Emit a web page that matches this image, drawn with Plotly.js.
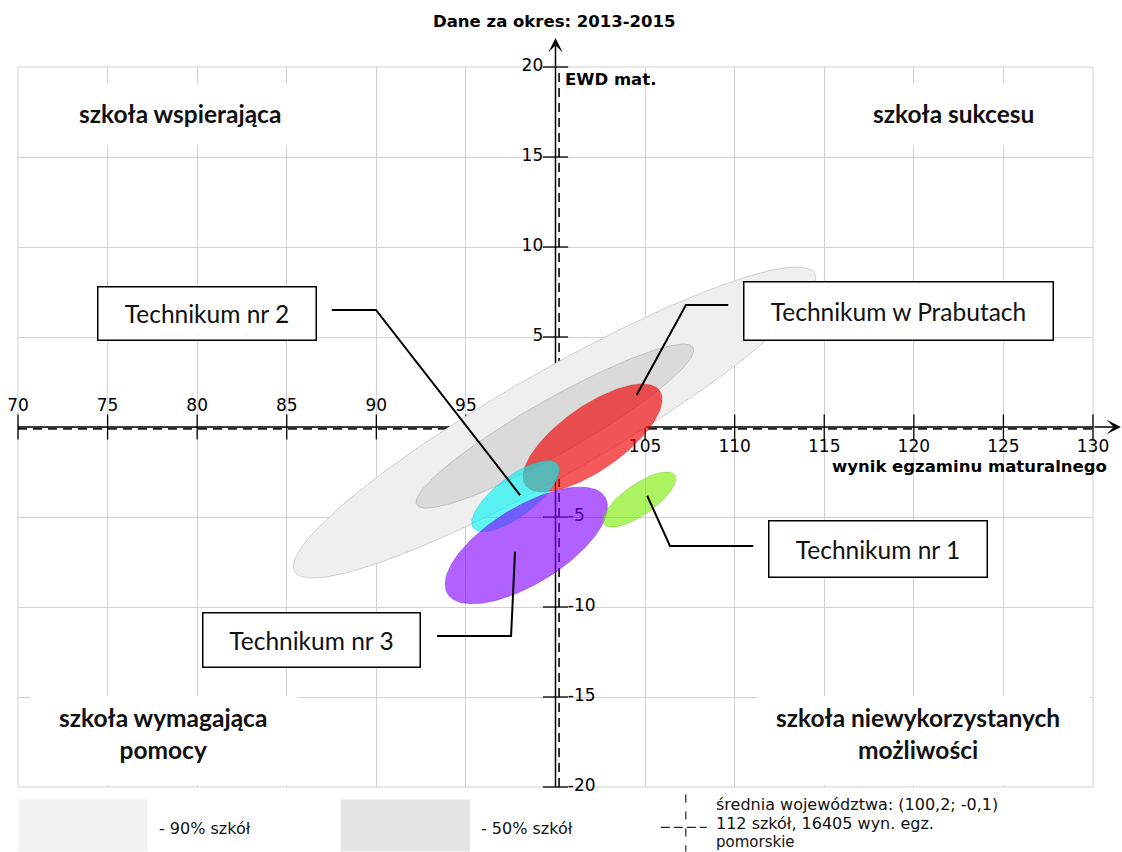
<!DOCTYPE html>
<html><head><meta charset="utf-8">
<script src="https://cdn.plot.ly/plotly-3.0.1.min.js"></script>
<style>body{margin:0;background:#fff}#chart{width:1122px;height:852px}</style>
</head><body><div id="chart"></div>
<script>
// ---- data ----
const ellipseNames = ['90% szkół', '50% szkół', 'Technikum w Prabutach', 'Technikum nr 2', 'Technikum nr 3', 'Technikum nr 1'];
const centerX   = [99.95, 99.97, 102.07, 97.77, 98.37, 104.68];
const centerY   = [0.25, 0.05, -0.61, -3.84, -6.58, -4.03];
const semiMajor = [16.7, 8.86, 4.57, 2.95, 5.15, 2.40];
const semiMinor = [2.85, 1.50, 1.78, 1.10, 2.14, 0.86];
const angleDeg  = [29.7, 29.5, 35.0, 37.0, 31.4, 34.6];
const meanX = 100.2, meanY = -0.1;
const xTicksLow  = [70, 75, 80, 85, 90, 95];
const xTicksHigh = [105, 110, 115, 120, 125, 130];
const yTicksHigh = [5, 10, 15, 20];
const yTicksLow  = [-5, -10, -15, -20];

// ---- styles ----
const fills = ['#efefef', '#dadada', 'rgba(240,0,0,0.65)', 'rgba(0,240,240,0.63)', 'rgba(127,0,255,0.62)', 'rgba(120,235,0,0.62)'];
const edges = ['#c4c4c4', '#b8b8b8', 'rgba(200,0,0,0.35)', 'rgba(0,170,170,0.35)', 'rgba(90,0,200,0.35)', 'rgba(80,170,0,0.35)'];
const TICKFONT = {family: 'DejaVu Sans', size: 17, color: '#000'};

function ellipseTrace(i) {
  const n = 160, th = angleDeg[i] * Math.PI / 180, xs = [], ys = [];
  for (let k = 0; k <= n; k++) {
    const t = 2 * Math.PI * k / n, c = Math.cos(t), s = Math.sin(t);
    xs.push(centerX[i] + semiMajor[i] * c * Math.cos(th) - semiMinor[i] * s * Math.sin(th));
    ys.push(centerY[i] + semiMajor[i] * c * Math.sin(th) + semiMinor[i] * s * Math.cos(th));
  }
  return {x: xs, y: ys, type: 'scatter', mode: 'lines', fill: 'toself', name: ellipseNames[i],
    fillcolor: fills[i], line: {color: edges[i], width: 0.8}, hoverinfo: 'skip', showlegend: false};
}
function tickTrace(xs, ys, symbol, pos) {
  return {x: xs, y: ys, type: 'scatter', mode: 'markers+text', cliponaxis: false,
    text: (symbol === 'line-ns' ? xs : ys).map(String), textposition: pos, textfont: TICKFONT,
    marker: {symbol: symbol, size: 18, line: {color: '#000', width: 1.3}}, hoverinfo: 'skip', showlegend: false};
}

const traces = [
  tickTrace(xTicksLow, xTicksLow.map(() => 0), 'line-ns', 'top center'),
  tickTrace(xTicksHigh, xTicksHigh.map(() => 0), 'line-ns', 'bottom center'),
  tickTrace(yTicksHigh.map(() => 100), yTicksHigh, 'line-ew', 'middle left'),
  tickTrace(yTicksLow.map(() => 100), yTicksLow, 'line-ew', 'middle right'),
];
for (let i = 0; i < ellipseNames.length; i++) traces.push(ellipseTrace(i));

const white = (x0, x1, y0, y1) => ({type: 'rect', xref: 'x', yref: 'y', x0, x1, y0, y1, fillcolor: '#fff', line: {width: 0}, layer: 'between'});
const leader = (p) => ({type: 'path', xref: 'x', yref: 'y', path: p, line: {color: '#000', width: 2}, layer: 'above'});
const shapes = [
  {type: 'rect', xref: 'paper', yref: 'paper', x0: 0, x1: 1, y0: 0, y1: 1, line: {color: '#d0d0d0', width: 1}, layer: 'below'},
  white(73, 87, 15.67, 19.09), white(116.5, 128.5, 15.67, 19.09),
  white(70.67, 85.57, -19.89, -14.94), white(111.25, 129.83, -19.89, -14.94),
  {type: 'line', xref: 'x', yref: 'y', x0: 70, x1: 130, y0: 0, y1: 0, line: {color: '#000', width: 1.5}, layer: 'between'},
  {type: 'line', xref: 'x', yref: 'y', x0: 100, x1: 100, y0: -20, y1: 20, line: {color: '#000', width: 1.5}, layer: 'between'},
  {type: 'line', xref: 'x', yref: 'y', x0: 70, x1: 130, y0: meanY, y1: meanY, line: {color: '#222', width: 1.8, dash: '9px,6px'}, layer: 'between'},
  {type: 'line', xref: 'x', yref: 'y', x0: meanX, x1: meanX, y0: -20, y1: 20, line: {color: '#222', width: 1.8, dash: '9px,6px'}, layer: 'between'},
  leader('M 87.51,6.5 L 89.98,6.5 L 98.02,-3.78'),
  leader('M 109.64,6.78 L 107.28,6.78 L 104.53,1.78'),
  leader('M 111.04,-6.61 L 106.39,-6.61 L 105.12,-3.82'),
  leader('M 93.39,-11.61 L 97.52,-11.61 L 97.74,-6.93'),
  {type: 'rect', xref: 'paper', yref: 'paper', x0: 0, x1: 0.1205, y0: -0.0895, y1: -0.0173, fillcolor: '#f2f2f2', line: {width: 0}},
  {type: 'rect', xref: 'paper', yref: 'paper', x0: 0.3, x1: 0.4202, y0: -0.0895, y1: -0.0173, fillcolor: '#e4e4e4', line: {width: 0}},
  {type: 'line', xref: 'paper', yref: 'paper', x0: 0.6212, x1: 0.6212, y0: -0.0104, y1: -0.0895, line: {color: '#222', width: 1.2, dash: '8px,9px'}},
  {type: 'line', xref: 'paper', yref: 'paper', x0: 0.598, x1: 0.6408, y0: -0.0562, y1: -0.0562, line: {color: '#222', width: 1.2, dash: '9px,4px'}},
];

const QFONT = {family: 'Lato', size: 24.5, color: '#111'};
const BFONT = {family: 'Lato', size: 24.5, color: '#111'};
const LFONT = {family: 'DejaVu Sans', size: 16, color: '#111'};
const box = (text, x, y, w, h) => ({text, x, y, xref: 'x', yref: 'y', showarrow: false, font: BFONT,
  bgcolor: '#fff', bordercolor: '#000', borderwidth: 1.5, borderpad: 0, width: w, height: h});
const quad = (text, x, y) => ({text: '<b>' + text + '</b>', x, y, xref: 'x', yref: 'y', showarrow: false, font: QFONT});
const leg = (text, x, y, size) => ({text, x, y, xref: 'paper', yref: 'paper', xanchor: 'left', yanchor: 'middle', showarrow: false,
  font: Object.assign({}, LFONT, size ? {size} : {})});

const annotations = [
  {x: 1.026, y: 0, xref: 'paper', yref: 'y', ax: -28, ay: 0, axref: 'pixel', ayref: 'pixel', text: '', showarrow: true,
   arrowhead: 3, arrowsize: 1.6, arrowwidth: 1.5, arrowcolor: '#000', standoff: 0},
  {x: 100, y: 1.0403, xref: 'x', yref: 'paper', ax: 0, ay: 30, text: '', showarrow: true,
   arrowhead: 3, arrowsize: 1.6, arrowwidth: 1.5, arrowcolor: '#000', standoff: 0},
  {text: '<b>EWD mat.</b>', x: 100.42, y: 19.33, xref: 'x', yref: 'y', xanchor: 'left', yanchor: 'middle', showarrow: false,
   font: {family: 'DejaVu Sans', size: 16.5, color: '#000'}},
  {text: '<b>wynik egzaminu maturalnego</b>', x: 1.0149, y: -2.22, xref: 'paper', yref: 'y', xanchor: 'right', yanchor: 'middle', showarrow: false,
   font: {family: 'DejaVu Sans', size: 16.5, color: '#000'}},
  quad('szkoła wspierająca', 79.04, 17.39),
  quad('szkoła sukcesu', 122.24, 17.44),
  quad('szkoła wymagająca<br>pomocy', 78.09, -17.0),
  quad('szkoła niewykorzystanych<br>możliwości', 120.23, -17.0),
  box('Technikum nr 2', 80.53, 6.32, 217, 52),
  box('Technikum w Prabutach', 119.14, 6.47, 308, 57),
  box('Technikum nr 1', 118.0, -6.78, 217, 55),
  box('Technikum nr 3', 86.38, -11.83, 216, 53),
  leg('- 90% szkół', 0.1289, -0.0576),
  leg('- 50% szkół', 0.4286, -0.0576),
  leg('średnia województwa: (100,2; -0,1)', 0.6473, -0.0243),
  leg('112 szkół, 16405 wyn. egz.', 0.6473, -0.0507),
  leg('pomorskie', 0.6473, -0.0757, 15),
];

const layout = {
  width: 1122, height: 852,
  margin: {l: 18, r: 29, t: 67, b: 65},
  paper_bgcolor: '#fff', plot_bgcolor: '#fff',
  title: {text: '<b>Dane za okres: 2013-2015</b>', font: {family: 'DejaVu Sans', size: 16.5, color: '#000'},
    x: 0.494, xref: 'container', xanchor: 'center', y: 0.975, yref: 'container', yanchor: 'middle'},
  xaxis: {range: [70, 130], tick0: 70, dtick: 5, showgrid: true, gridcolor: '#d0d0d0', gridwidth: 1,
    showticklabels: false, ticks: '', zeroline: false, showline: false, fixedrange: true},
  yaxis: {range: [-20, 20], tick0: -20, dtick: 5, showgrid: true, gridcolor: '#d0d0d0', gridwidth: 1,
    showticklabels: false, ticks: '', zeroline: false, showline: false, fixedrange: true},
  shapes, annotations, showlegend: false
};
Plotly.newPlot('chart', traces, layout, {displayModeBar: false, staticPlot: true});
</script>
</body></html>
